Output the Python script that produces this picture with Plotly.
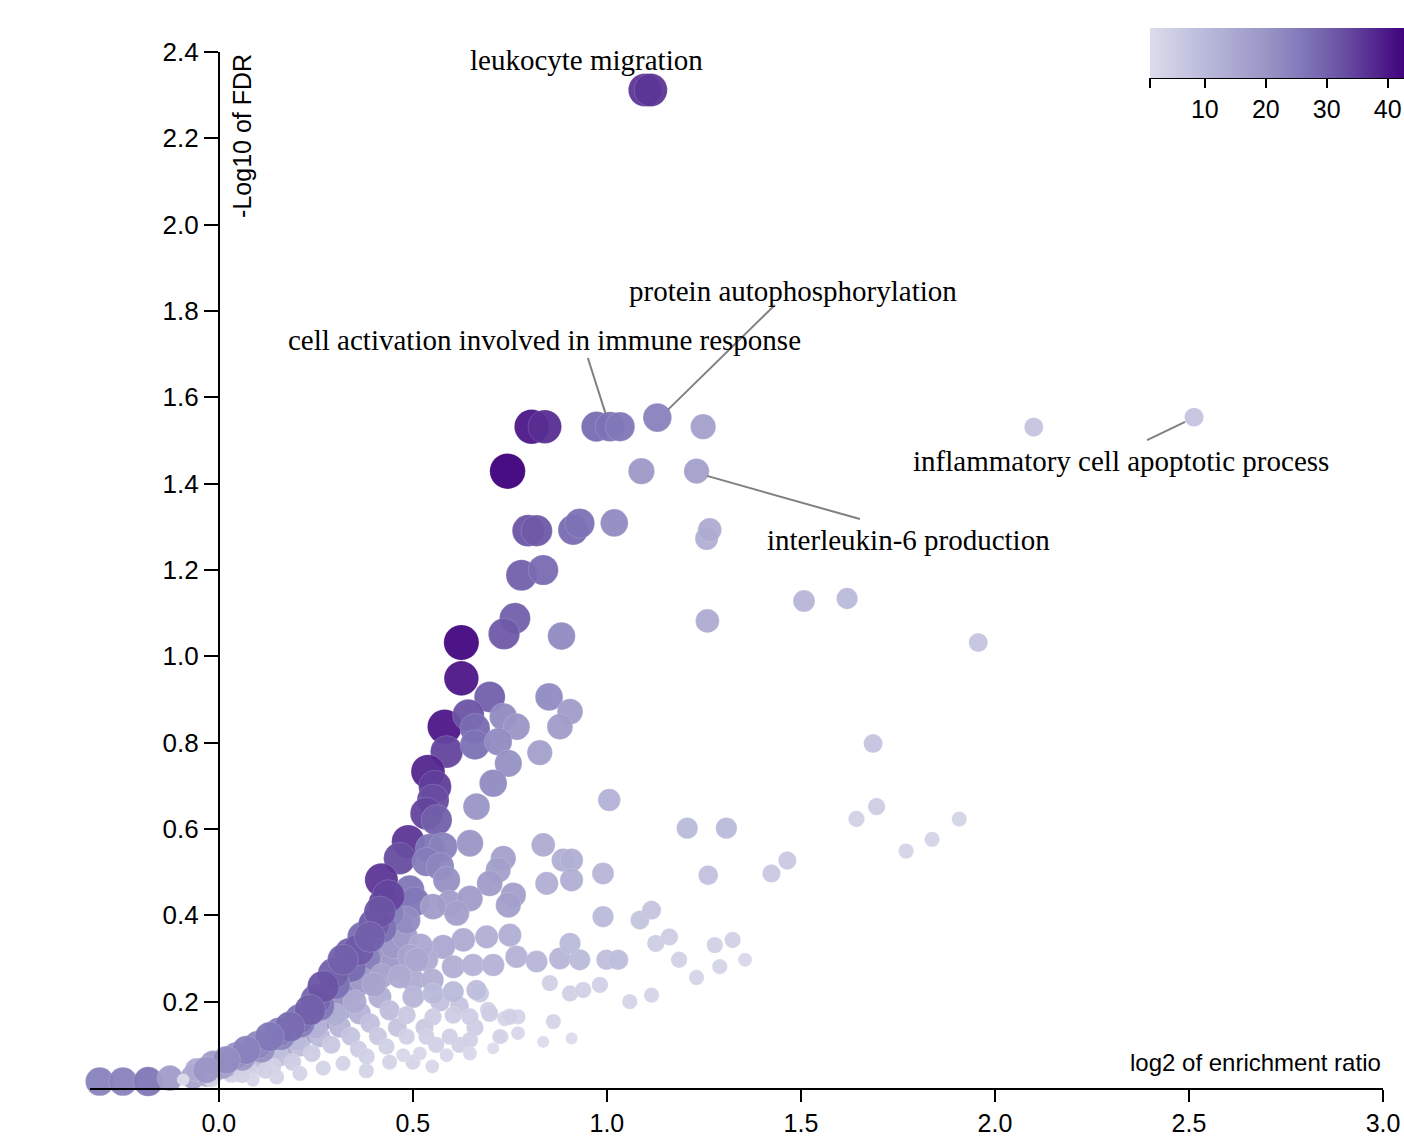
import math
import plotly.graph_objects as go

# ---- data: log2 enrichment ratio, -log10 FDR, gene count ----
er = [1.098, 1.113, 0.806, 0.840, 0.973, 1.008, 1.034, 1.130, 1.248, 0.744, 1.089, 1.231, 2.100, 2.513,
      0.797, 0.819, 0.913, 0.930, 1.019, 1.257, 1.265, 0.780, 0.836, 0.763, 0.735, 0.883, 0.625, 0.625,
      1.259, 1.508, 1.619, 1.957, 0.698, 0.851, 0.905, 0.879, 0.582, 0.643, 0.660, 0.733, 0.767,
      0.587, 0.660, 0.720, 0.827, 0.746, 0.539, 0.557, 0.707, 1.006,
      1.686, 1.695, 1.643, 1.771, 1.838, 1.908,
      0.664, 0.552, 0.535, 0.561,
      0.488, 0.466, 0.544, 0.578, 0.535, 0.570, 0.587, 0.647,
      0.733, 0.720, 0.698, 0.759, 0.746,
      0.836, 0.887, 0.909, 0.845, 0.909, 0.990, 0.990,
      1.207, 1.308, 1.261, 1.424, 1.465,
      0.419, 0.428, 0.492, 0.505, 0.595, 0.647, 0.613,
      0.690, 0.750, 0.630, 0.578, 0.398, 0.458,
      0.338, 0.372, 0.423, 0.458,
      0.535, 0.604, 0.655, 0.707, 0.767, 0.819, 0.879, 0.930, 0.999, 1.029, 0.905,
      0.853, 0.905, 0.939, 0.982,
      1.085, 1.115, 1.126, 1.161, 1.186, 1.231, 1.278, 1.324, 1.291, 1.356,
      1.059, 1.115, 0.862, 0.836, 0.909,
      0.694, 0.737, 0.771, 0.729, 0.771, 0.707, 0.673,
      0.466, 0.432, 0.398, 0.346, 0.320, 0.278, 0.226, 0.174, 0.123, 0.063, 0.011,
      0.350, 0.300, 0.260, 0.210, 0.160, 0.380, 0.450,
      0.370, 0.420, 0.450, 0.480, 0.500, 0.520, 0.550,
      0.492, 0.466, 0.415, 0.363, 0.312, 0.260, 0.209, 0.157, 0.097, 0.037,
      0.400, 0.350, 0.300, 0.250, 0.200, 0.150, 0.100, 0.050,
      0.440, 0.390, 0.340, 0.290, 0.240, 0.190, 0.140, 0.080, 0.030,
      0.410, 0.360, 0.460, 0.530, 0.570, 0.620, 0.660, 0.620, 0.560, 0.500, 0.440, 0.380, 0.550,
      0.510, 0.501, 0.552, 0.604, 0.664,
      0.484, 0.552, 0.604, 0.647, 0.698, 0.750,
      0.535, 0.595, 0.647, 0.724, 0.475, 0.518, 0.587, 0.647,
      0.432, 0.381, 0.320, 0.269, 0.209, 0.149, 0.088, 0.484,
      0.484, 0.441, 0.552,
      -0.010, 0.030, 0.060, 0.120,
      -0.307, -0.247, -0.182, -0.126, -0.066, -0.032, -0.015, -0.057, -0.092, -0.019,
      0.340, 0.300, 0.260, 0.210, 0.160, 0.110, 0.060, 0.010, 0.370, 0.420,
      0.360, 0.295, 0.250, 0.208, 0.155, 0.100, 0.045, 0.400, 0.437,
      0.415, 0.389, 0.320, 0.269, 0.235, 0.183, 0.131, 0.071, 0.020, -0.032]
fdr = [2.312, 2.312, 1.532, 1.532, 1.532, 1.532, 1.532, 1.553, 1.532, 1.429, 1.429, 1.429, 1.531, 1.554,
       1.291, 1.291, 1.293, 1.308, 1.309, 1.273, 1.293, 1.188, 1.200, 1.088, 1.052, 1.047, 1.032, 0.949,
       1.082, 1.128, 1.134, 1.032, 0.906, 0.906, 0.872, 0.837, 0.837, 0.864, 0.833, 0.860, 0.837,
       0.779, 0.795, 0.802, 0.777, 0.752, 0.733, 0.698, 0.706, 0.667,
       0.798, 0.652, 0.623, 0.549, 0.576, 0.623,
       0.652, 0.667, 0.636, 0.621,
       0.571, 0.532, 0.555, 0.559, 0.524, 0.513, 0.482, 0.567,
       0.532, 0.505, 0.474, 0.447, 0.424,
       0.563, 0.528, 0.528, 0.474, 0.482, 0.497, 0.397,
       0.602, 0.602, 0.493, 0.497, 0.527,
       0.482, 0.428, 0.459, 0.432, 0.428, 0.439, 0.405,
       0.350, 0.354, 0.343, 0.327, 0.350, 0.350,
       0.312, 0.297, 0.304, 0.281,
       0.297, 0.281, 0.285, 0.285, 0.304, 0.293, 0.300, 0.297, 0.297, 0.297, 0.335,
       0.243, 0.219, 0.227, 0.239,
       0.389, 0.412, 0.335, 0.350, 0.297, 0.256, 0.331, 0.343, 0.281, 0.297,
       0.200, 0.215, 0.154, 0.107, 0.115,
       0.181, 0.161, 0.165, 0.119, 0.127, 0.092, 0.219,
       0.374, 0.320, 0.273, 0.227, 0.188, 0.165, 0.134, 0.111, 0.088, 0.065, 0.046,
       0.240, 0.200, 0.160, 0.120, 0.090, 0.300, 0.290,
       0.250, 0.260, 0.330, 0.350, 0.250, 0.330, 0.250,
       0.304, 0.258, 0.211, 0.173, 0.142, 0.119, 0.096, 0.073, 0.049, 0.034,
       0.240, 0.200, 0.170, 0.140, 0.110, 0.090, 0.070, 0.050,
       0.180, 0.150, 0.120, 0.100, 0.080, 0.060, 0.050, 0.040, 0.030,
       0.120, 0.090, 0.140, 0.140, 0.200, 0.190, 0.140, 0.100, 0.100, 0.060, 0.060, 0.040, 0.050,
       0.297, 0.211, 0.219, 0.223, 0.227,
       0.169, 0.165, 0.169, 0.165, 0.173, 0.165,
       0.119, 0.119, 0.111, 0.119, 0.076, 0.080, 0.076, 0.080,
       0.096, 0.073, 0.057, 0.046, 0.034, 0.026, 0.019, 0.119,
       0.389, 0.405, 0.420,
       0.040, 0.050, 0.030, 0.040,
       0.015, 0.015, 0.015, 0.023, 0.026, 0.030, 0.057, 0.042, 0.019, 0.019,
       0.280, 0.240, 0.190, 0.150, 0.120, 0.090, 0.070, 0.050, 0.350, 0.370,
       0.320, 0.265, 0.205, 0.160, 0.130, 0.100, 0.075, 0.380, 0.445,
       0.408, 0.350, 0.297, 0.235, 0.181, 0.142, 0.119, 0.088, 0.065, 0.042]
genes = [36, 36, 40, 37, 28, 27, 26, 24, 17, 43, 19, 17, 7, 7,
         32, 31, 28, 27, 22, 13, 14, 30, 28, 30, 31, 22, 42, 40,
         14, 11, 10, 7, 30, 22, 18, 18, 40, 32, 28, 22, 20,
         34, 27, 22, 17, 21, 38, 35, 22, 12,
         7, 5, 4, 3, 3, 3,
         20, 33, 34, 30,
         36, 33, 26, 24, 25, 23, 21, 20,
         17, 17, 18, 17, 17,
         14, 13, 13, 13, 13, 11, 10,
         10, 10, 8, 6, 6,
         36, 35, 26, 26, 18, 18, 17,
         13, 13, 14, 15, 28, 22,
         30, 24, 20, 18,
         14, 13, 12, 12, 12, 11, 11, 10, 9, 9, 10,
         4, 4, 4, 4,
         7, 7, 5, 5, 4, 3, 4, 4, 3, 2,
         3, 3, 3, 1, 1,
         4, 3, 3, 2, 2, 1, 6,
         20, 19, 20, 18, 16, 16, 15, 13, 12, 12, 10,
         22, 20, 19, 17, 15, 24, 18,
         18, 16, 19, 18, 14, 15, 13,
         16, 14, 13, 12, 11, 10, 9, 8, 7, 6,
         16, 14, 13, 12, 10, 9, 9, 8,
         9, 8, 7, 6, 5, 5, 4, 4, 3,
         6, 5, 7, 6, 8, 7, 5, 4, 4, 3, 3, 3, 2,
         15, 11, 10, 10, 9,
         6, 5, 5, 5, 5, 4,
         4, 4, 4, 3, 2, 2, 2, 2,
         4, 4, 3, 3, 3, 3, 2, 4,
         22, 24, 18,
         12, 9, 4, 4,
         24, 24, 26, 18, 16, 14, 18, 14, 1, 3,
         28, 27, 26, 25, 23, 21, 19, 17, 28, 27,
         31, 30, 29, 27, 25, 23, 21, 31, 34,
         32, 30, 30, 32, 30, 28, 26, 24, 22, 20]

# labelled terms
label_text = ["leukocyte migration", "protein autophosphorylation",
              "cell activation involved in immune response",
              "inflammatory cell apoptotic process", "interleukin-6 production"]
label_x = [0.948, 1.479, 0.838, 2.325, 1.776]
label_y = [2.381, 1.846, 1.733, 1.452, 1.269]
# leader lines: (from text side) -> (to point side)
lead_x0 = [1.433, 0.951, 2.392, 1.258]
lead_y0 = [1.814, 1.691, 1.501, 1.418]
lead_x1 = [1.157, 0.997, 2.490, 1.652]
lead_y1 = [1.571, 1.561, 1.543, 1.318]

x_ticks = [0.0, 0.5, 1.0, 1.5, 2.0, 2.5, 3.0]
y_ticks = [0.2, 0.4, 0.6, 0.8, 1.0, 1.2, 1.4, 1.6, 1.8, 2.0, 2.2, 2.4]
cbar_ticks = [1, 10, 20, 30, 40]
cbar_text = ["", "10", "20", "30", "40"]

CMIN, CMAX = 1, 43
XMIN, XMAX = -0.332, 3.0

colorscale = [[0.0, "#dcdcec"], [0.2, "#bcbcdc"], [0.45, "#9a96c6"], [0.6, "#7f77b8"],
              [0.75, "#6a51a3"], [0.88, "#54278f"], [1.0, "#3f007d"]]

sizes = [8 + 4.2 * math.sqrt(g) for g in genes]

sans = "Liberation Sans, Arial, Helvetica, sans-serif"
serif = "Liberation Serif, Times New Roman, serif"

fig = go.Figure()
fig.add_trace(go.Scatter(
    x=er, y=fdr, mode="markers", cliponaxis=False, hoverinfo="skip",
    marker=dict(size=sizes, sizemode="diameter", color=genes, colorscale=colorscale,
                cmin=CMIN, cmax=CMAX, opacity=0.95,
                line=dict(width=0.5, color="rgba(255,255,255,0.35)"),
                colorbar=dict(orientation="h", xanchor="left", x=(1150 - 90) / 1293,
                              yanchor="top", y=(1088 - 28) / 1036,
                              lenmode="pixels", len=256, thickness=50,
                              xpad=0, ypad=0, outlinewidth=0,
                              ticks="outside", ticklen=10, tickwidth=2, tickcolor="black",
                              tickvals=cbar_ticks, ticktext=cbar_text,
                              tickfont=dict(family=sans, size=25, color="black"))),
    showlegend=False))

annotations = []
for t, lx, ly in zip(label_text, label_x, label_y):
    annotations.append(dict(x=lx, y=ly, xref="x", yref="y", text=t, showarrow=False,
                            xanchor="center", yanchor="middle",
                            font=dict(family=serif, size=29, color="black")))
annotations.append(dict(x=0.059, y=2.205, xref="x", yref="y", text="-Log10 of FDR",
                        textangle=-90, showarrow=False, xanchor="center", yanchor="middle",
                        font=dict(family=sans, size=25, color="black")))
annotations.append(dict(x=1.0, y=0.058, xref="paper", yref="y", text="log2 of enrichment ratio",
                        showarrow=False, xanchor="right", yanchor="middle",
                        font=dict(family=sans, size=24, color="black")))

shapes = []
for a, b, c, d in zip(lead_x0, lead_y0, lead_x1, lead_y1):
    shapes.append(dict(type="line", xref="x", yref="y", x0=a, y0=b, x1=c, y1=d,
                       line=dict(color="#808080", width=2)))
# colorbar axis baseline
shapes.append(dict(type="line", xref="paper", yref="paper",
                   x0=(1150 - 90) / 1293, x1=1.1, y0=(1088 - 78) / 1036, y1=(1088 - 78) / 1036,
                   line=dict(color="black", width=2)))

fig.update_layout(
    width=1404, height=1142,
    margin=dict(l=90, r=21, t=52, b=54, autoexpand=False),
    paper_bgcolor="white", plot_bgcolor="white",
    annotations=annotations, shapes=shapes,
    xaxis=dict(range=[XMIN, XMAX], showgrid=False, zeroline=False, showline=True,
               linecolor="black", linewidth=2, ticks="outside", ticklen=12, tickwidth=2,
               tickcolor="black", tickvals=x_ticks, tickformat=".1f",
               tickfont=dict(family=sans, size=25, color="black")),
    yaxis=dict(range=[0, 2.4], showgrid=False, zeroline=False, showline=True,
               linecolor="black", linewidth=2, ticks="outside", ticklen=14, tickwidth=2,
               tickcolor="black", tickvals=y_ticks, tickformat=".1f",
               anchor="free", position=(0 - XMIN) / (XMAX - XMIN), side="left",
               tickfont=dict(family=sans, size=26, color="black")),
)

fig.write_html("out.html")
